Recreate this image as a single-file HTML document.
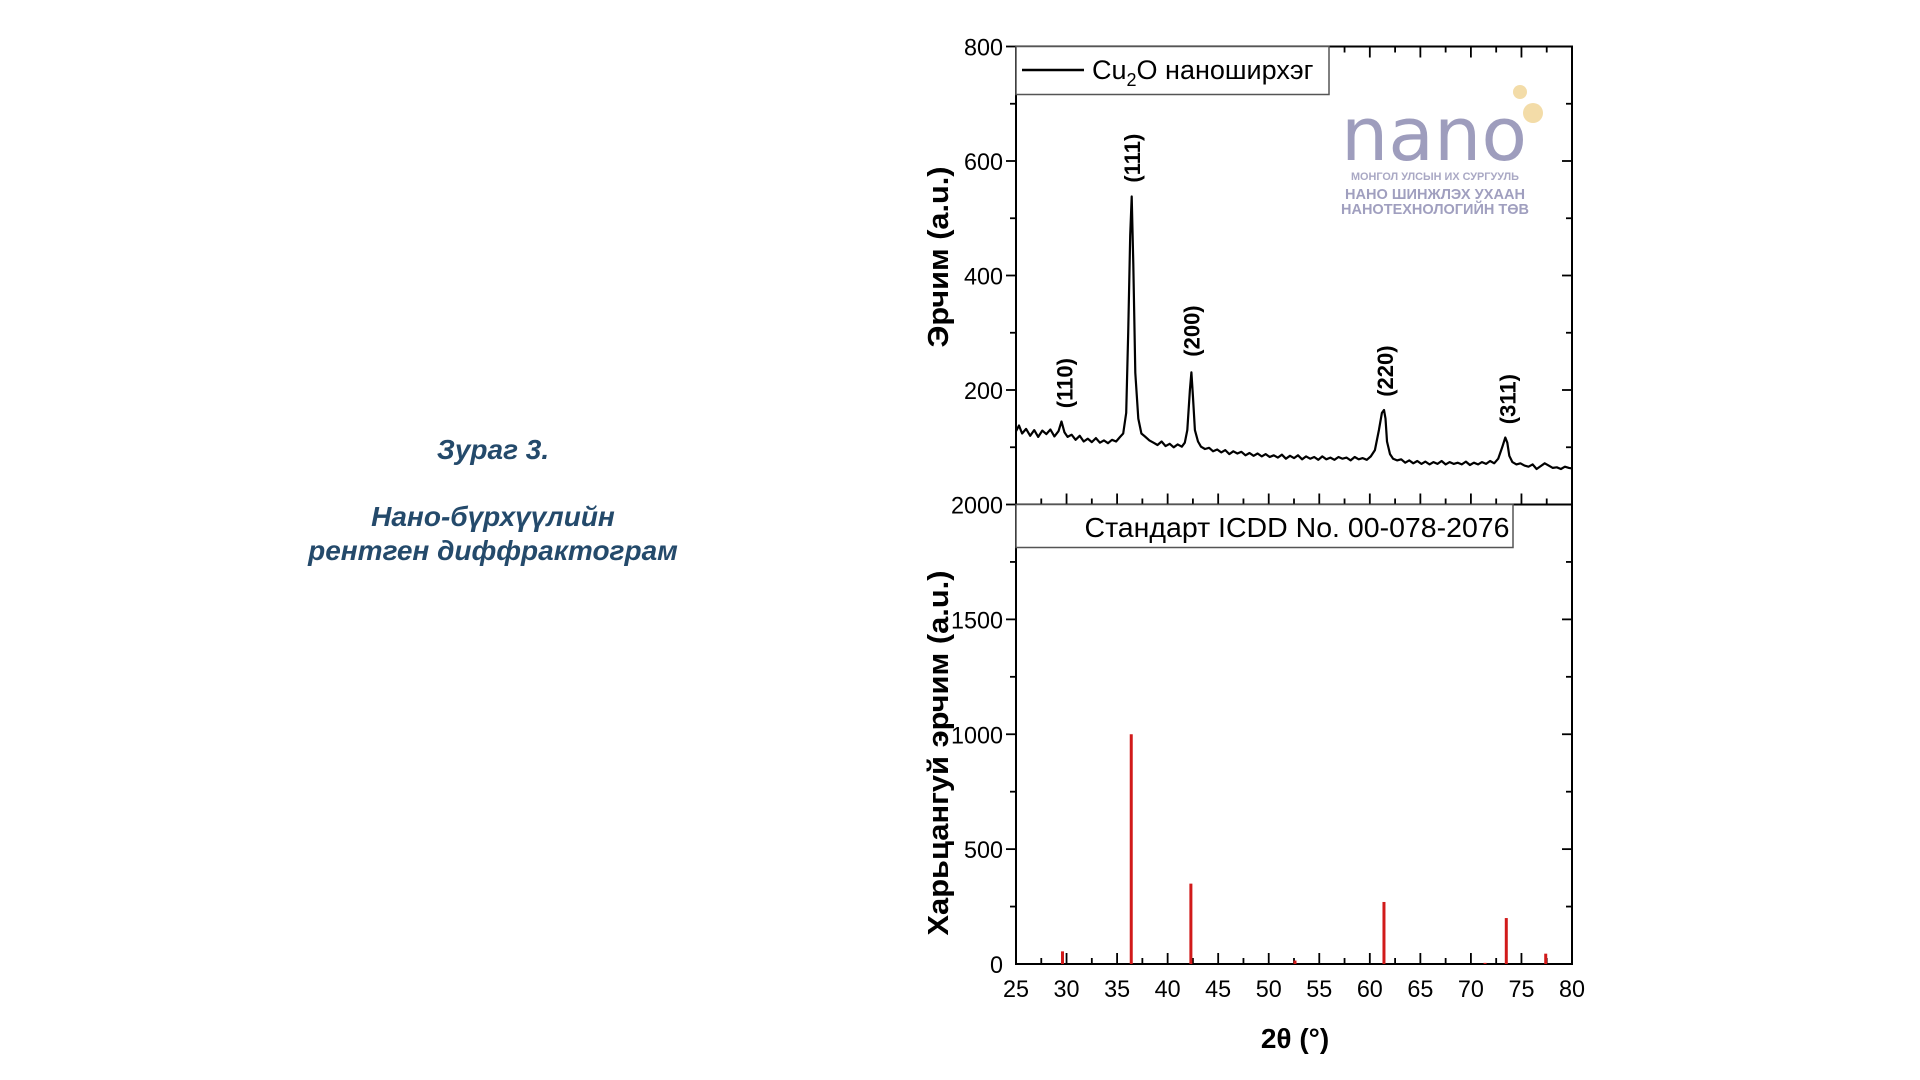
<!DOCTYPE html>
<html><head><meta charset="utf-8"><style>
html,body{margin:0;padding:0;background:#fff;}
body{width:1920px;height:1080px;position:relative;overflow:hidden;font-family:"Liberation Sans",sans-serif;}
.cap{position:absolute;left:193px;width:600px;text-align:center;color:#244a6b;font-weight:bold;font-style:italic;font-size:28px;}
</style></head><body>
<div class="cap" style="top:434px;">Зураг 3.</div>
<div class="cap" style="top:500px;line-height:34px;">Нано-бүрхүүлийн<br>рентген диффрактограм</div>
<svg id="chart" width="1920" height="1080" style="position:absolute;left:0;top:0"></svg>
<script>
const xTicks=[25,30,35,40,45,50,55,60,65,70,75,80];
const topTicks=[200,400,600,800];
const botTicks=[0,500,1000,1500,2000];
const traceX=[25,25.3,25.6,26,26.4,26.8,27.2,27.6,28,28.4,28.8,29.2,29.5,29.8,30.1,30.5,30.9,31.3,31.7,32.1,32.5,32.9,33.3,33.7,34.1,34.5,34.9,35.3,35.6,35.9,36.1,36.3,36.45,36.6,36.8,37.1,37.4,37.8,38.2,38.6,39,39.4,39.8,40.2,40.6,41,41.4,41.7,41.95,42.2,42.35,42.5,42.7,43,43.3,43.7,44.1,44.5,44.9,45.3,45.7,46.1,46.5,46.9,47.3,47.7,48.1,48.5,48.9,49.3,49.7,50.1,50.5,50.9,51.3,51.7,52.1,52.5,52.9,53.3,53.7,54.1,54.5,54.9,55.3,55.7,56.1,56.5,56.9,57.3,57.7,58.1,58.5,58.9,59.3,59.7,60.1,60.5,60.9,61.2,61.4,61.55,61.7,62,62.3,62.7,63.1,63.5,63.9,64.3,64.7,65.1,65.5,65.9,66.3,66.7,67.1,67.5,67.9,68.3,68.7,69.1,69.5,69.9,70.3,70.7,71.1,71.5,71.9,72.3,72.7,73.1,73.4,73.6,73.8,74.1,74.5,74.9,75.3,75.7,76.1,76.5,76.9,77.3,77.7,78.1,78.5,78.9,79.3,79.7,80];
const traceY=[128,138,124,132,120,130,118,129,123,131,119,128,145,126,118,122,113,120,110,115,109,116,108,112,107,113,110,118,124,160,300,470,538,420,230,150,124,118,112,108,104,110,102,106,100,105,101,108,130,200,231,190,130,110,101,97,99,93,96,91,95,88,93,89,92,86,90,85,89,84,88,83,86,82,87,80,85,81,86,79,84,80,83,78,84,79,82,78,83,80,82,77,83,79,81,78,84,95,130,160,165,150,110,88,80,77,79,73,77,72,76,71,75,70,74,71,76,70,74,71,73,70,75,69,73,70,74,71,76,72,80,100,117,108,85,74,70,72,68,66,70,62,67,72,68,64,65,62,66,64,63];
const stickX=[29.6,36.4,42.3,52.6,61.4,71.4,73.5,77.4];
const stickY=[55,1000,350,15,270,5,200,45];
const peakLabels=['(110)','(111)','(200)','(220)','(311)'];
const peakLabelX=[29.8,36.5,42.35,61.5,73.6];
const peakLabelY=[212,605,303,233,184];

const svg=document.getElementById('chart');const NS='http://www.w3.org/2000/svg';
const L=1016,R=1572,T=46.5,M=504.5,B=964;
const xs=v=>L+(v-25)/55*(R-L);
const yt=v=>M-(v)/800*(M-T);
const yb=v=>B-v/2000*(B-M);
function mk(tag,attrs,text){const e=document.createElementNS(NS,tag);for(const k in attrs)e.setAttribute(k,attrs[k]);if(text!==undefined)e.textContent=text;svg.appendChild(e);return e;}
const font='"Liberation Sans",sans-serif';

let e;
e=mk('circle',{cx:1520,cy:92,r:7,fill:'#f3dca8'});
e=mk('circle',{cx:1533,cy:113,r:10,fill:'#f3dca8'});
e=mk('text',{x:1434,y:160,'text-anchor':'middle','font-family':'"DejaVu Sans",sans-serif','font-size':74,fill:'#9e9dbd',textLength:186,lengthAdjust:'spacingAndGlyphs'},'nano');
e=mk('text',{x:1435,y:180,'text-anchor':'middle','font-family':font,'font-size':11,'font-weight':'bold',fill:'#a9a8c4',textLength:168,lengthAdjust:'spacingAndGlyphs'},'МОНГОЛ УЛСЫН ИХ СУРГУУЛЬ');
e=mk('text',{x:1435,y:199,'text-anchor':'middle','font-family':font,'font-size':15,'font-weight':'bold',fill:'#a09fbf',textLength:180,lengthAdjust:'spacingAndGlyphs'},'НАНО ШИНЖЛЭХ УХААН');
e=mk('text',{x:1435,y:214,'text-anchor':'middle','font-family':font,'font-size':15,'font-weight':'bold',fill:'#a09fbf',textLength:188,lengthAdjust:'spacingAndGlyphs'},'НАНОТЕХНОЛОГИЙН ТӨВ');

e=mk('rect',{x:L,y:T,width:R-L,height:B-T,fill:'none',stroke:'#000','stroke-width':2});
e=mk('line',{x1:L,y1:M,x2:R,y2:M,stroke:'#000','stroke-width':2});

for(let v=25;v<=80;v+=2.5){const maj=(v%5===0);const x=xs(v);const len=maj?11:6;
 e=mk('line',{x1:x,y1:B,x2:x,y2:B-len,stroke:'#000','stroke-width':1.8});
 e=mk('line',{x1:x,y1:M,x2:x,y2:M-len,stroke:'#000','stroke-width':1.8});
 e=mk('line',{x1:x,y1:T,x2:x,y2:T+len,stroke:'#000','stroke-width':1.8});}
xTicks.forEach(v=>{e=mk('text',{x:xs(v),y:997,'text-anchor':'middle','font-family':font,'font-size':24,textLength:26,lengthAdjust:'spacingAndGlyphs'},String(v));});

for(let v=100;v<=800;v+=100){const maj=v%200===0;const y=yt(v);
 e=mk('line',{x1:L,y1:y,x2:L-(maj?10:6),y2:y,stroke:'#000','stroke-width':1.8});
 e=mk('line',{x1:R,y1:y,x2:R-(maj?10:6),y2:y,stroke:'#000','stroke-width':1.8});}
topTicks.forEach(v=>{e=mk('text',{x:L-13,y:yt(v)+9,'text-anchor':'end','font-family':font,'font-size':24,textLength:39,lengthAdjust:'spacingAndGlyphs'},String(v));});
for(let v=250;v<=2000;v+=250){const maj=v%500===0;const y=yb(v);
 e=mk('line',{x1:L,y1:y,x2:L-(maj?10:6),y2:y,stroke:'#000','stroke-width':1.8});
 e=mk('line',{x1:R,y1:y,x2:R-(maj?10:6),y2:y,stroke:'#000','stroke-width':1.8});}
botTicks.forEach(v=>{const s=String(v);e=mk('text',{x:L-13,y:yb(v)+9,'text-anchor':'end','font-family':font,'font-size':24,textLength:13*s.length,lengthAdjust:'spacingAndGlyphs'},s);});

e=mk('text',{x:948,y:257,'text-anchor':'middle','font-family':font,'font-size':29,'font-weight':'bold',transform:'rotate(-90 948 257)',textLength:181,lengthAdjust:'spacingAndGlyphs'},'Эрчим (a.u.)');
e=mk('text',{x:948,y:753,'text-anchor':'middle','font-family':font,'font-size':29,'font-weight':'bold',transform:'rotate(-90 948 753)',textLength:365,lengthAdjust:'spacingAndGlyphs'},'Харьцангуй эрчим (a.u.)');
e=mk('text',{x:1295,y:1048,'text-anchor':'middle','font-family':font,'font-size':28,'font-weight':'bold'},'2θ (°)');

let d='';traceX.forEach((x,i)=>{d+=(i?'L':'M')+xs(x).toFixed(1)+' '+yt(traceY[i]).toFixed(1);});
e=mk('path',{d:d,fill:'none',stroke:'#000','stroke-width':2.2,'stroke-linejoin':'round'});

stickX.forEach((x,i)=>{e=mk('line',{x1:xs(x),y1:B,x2:xs(x),y2:yb(stickY[i]),stroke:'#d11a1a','stroke-width':3});});

peakLabels.forEach((t,i)=>{const x=xs(peakLabelX[i])+8;const y=yt(peakLabelY[i]);
 e=mk('text',{x:x,y:y,'text-anchor':'middle','font-family':font,'font-size':22,'font-weight':'bold',transform:'rotate(-90 '+x+' '+y+')'},t);});

e=mk('rect',{x:L,y:T,width:313,height:48,fill:'#fff',stroke:'#555','stroke-width':1.5});
e=mk('line',{x1:1022,y1:70,x2:1084,y2:70,stroke:'#000','stroke-width':2.5});
e=mk('text',{x:1092,y:79,'font-family':font,'font-size':27},'');
e.innerHTML='Cu<tspan font-size="18" dy="7">2</tspan><tspan dy="-7">O наноширхэг</tspan>';
e=mk('rect',{x:L,y:M,width:497,height:43,fill:'#fff',stroke:'#555','stroke-width':1.5});
e=mk('text',{x:1297,y:537,'text-anchor':'middle','font-family':font,'font-size':28,textLength:425,lengthAdjust:'spacingAndGlyphs'},'Стандарт ICDD No. 00-078-2076');
</script>
</body></html>
